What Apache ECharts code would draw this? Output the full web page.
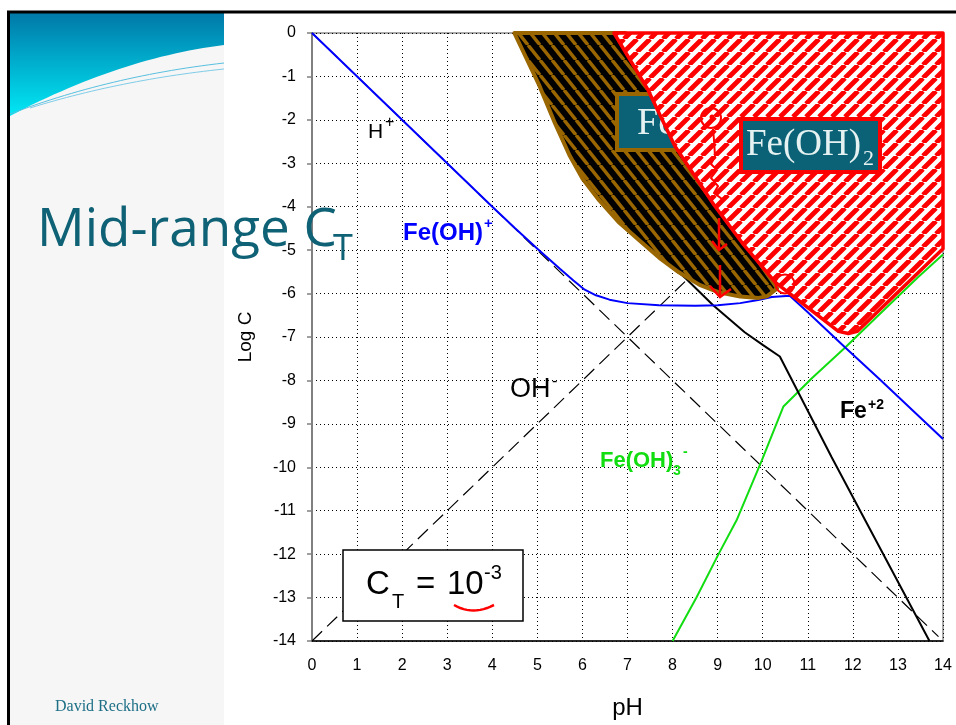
<!DOCTYPE html>
<html><head><meta charset="utf-8">
<script src="https://cdn.jsdelivr.net/npm/echarts@6.0.0/dist/echarts.min.js"></script>
<style>html,body{margin:0;padding:0;background:#fff}#c{width:956px;height:725px}</style>
</head><body><div id="c"></div>
<script>
// ---- data (pH, log C) ----
const pHRange = [0, 14];
const logCRange = [-14, 0];
const hPlus = [[0, 0], [13.9, -13.9]];
const ohMinus = [[0, -14], [14, 0]];
const feOHplus = [[0,0],[4,-4],[4.5,-4.49],[5,-4.97],[5.5,-5.43],[5.8,-5.7],[6.05,-5.91],[6.3,-6.04],[6.6,-6.14],[7,-6.22],[7.7,-6.27],[8.5,-6.28],[9,-6.27],[9.5,-6.22],[9.9,-6.15],[10.2,-6.08],[10.6,-6.05],[11,-6.43],[11.83,-7.24],[12.57,-7.95],[14,-9.35]];
const fe2 = [[7.4,-4.85],[8.3,-5.66],[8.9,-6.27],[9.6,-6.89],[10,-7.18],[10.38,-7.45],[11.53,-9.77],[13.7,-14]];
const feOH3minus = [[8,-14],[8.53,-13],[9.02,-12],[9.42,-11.22],[9.98,-9.84],[10.46,-8.6],[11.09,-7.95],[11.83,-7.24],[12.5,-6.57],[13.45,-5.62],[14,-5.1]];
const brownRegion = [[4.49,0],[5.04,-1.2],[5.4,-2.1],[5.71,-2.81],[6.0,-3.35],[6.37,-3.85],[6.8,-4.35],[7.26,-4.77],[7.7,-5.17],[8.14,-5.51],[8.6,-5.8],[9.03,-5.97],[9.5,-6.07],[9.91,-6.1],[10.1,-6.06],[10.32,-5.88],[9.7,-4.95],[9.0,-3.95],[8.25,-2.7],[7.6,-1.3],[6.95,0]];
const redRegion = [[6.7,0],[14,0],[14,-4.97],[12.1,-6.87],[11.9,-6.92],[11.68,-6.87],[10.28,-5.74],[9.58,-4.88],[8.92,-3.96],[8.05,-2.6],[7.45,-1.3]];

const FONT = '"Liberation Sans", Arial, sans-serif';
const SERIF = '"Liberation Serif", "Times New Roman", serif';

function stripes(w, h, bg, fg, lw, dir) {
  const c = document.createElement('canvas');
  c.width = w; c.height = h;
  const g = c.getContext('2d');
  g.fillStyle = bg; g.fillRect(0, 0, w, h);
  g.strokeStyle = fg; g.lineWidth = lw;
  g.beginPath();
  for (let k = -1; k <= 1; k++) {
    if (dir === '/') { g.moveTo(k * w, h); g.lineTo(k * w + w, 0); }
    else { g.moveTo(k * w, 0); g.lineTo(k * w + w, h); }
  }
  g.stroke();
  return { image: c, repeat: 'repeat' };
}
const redPattern = stripes(13, 13, '#ffffff', '#ff0000', 4.8, '/');
const brownPattern = stripes(12, 15, '#000000', '#996600', 3.5, '\\');

function T(text, x, y, font, fill, z, align) {
  return { type: 'text', x: x, y: y, z: z || 20, silent: true,
    style: { text: text, font: font, fill: fill, align: align || 'left', verticalAlign: 'middle',
             textAlign: align || 'left', textVerticalAlign: 'middle' } };
}
function bez(p0, c, p1, n) {
  const pts = [];
  for (let i = 0; i <= n; i++) {
    const t = i / n, a = (1 - t) * (1 - t), b = 2 * (1 - t) * t, d = t * t;
    pts.push([a * p0[0] + b * c[0] + d * p1[0], a * p0[1] + b * c[1] + d * p1[1]]);
  }
  return pts;
}

const chart = echarts.init(document.getElementById('c'));

const tealCurve = bez([224, 45], [120, 58], [10, 116], 30);
const graphics = [
  { type: 'rect', z: -10, shape: { x: 10, y: 13, width: 214, height: 712 }, style: { fill: '#f6f6f6' } },
  { type: 'polygon', z: -9, shape: { points: [[10, 13], [224, 13]].concat(tealCurve) },
    style: { fill: new echarts.graphic.LinearGradient(0, 0, 0, 1, [{ offset: 0, color: '#0078a8' }, { offset: 1, color: '#00e8f5' }]) } },
  { type: 'polyline', z: -8, shape: { points: bez([10, 114], [110, 76], [224, 63], 30) }, style: { stroke: '#58c0e0', lineWidth: 1, fill: null } },
  { type: 'polyline', z: -8, shape: { points: bez([30, 108], [120, 80], [224, 69], 30) }, style: { stroke: '#7fcde8', lineWidth: 1, fill: null } },
  // slide border
  { type: 'line', z: 30, shape: { x1: 7, y1: 12, x2: 956, y2: 12 }, style: { stroke: '#000', lineWidth: 3 } },
  { type: 'line', z: 30, shape: { x1: 8.5, y1: 11, x2: 8.5, y2: 725 }, style: { stroke: '#000', lineWidth: 3 } },
  // title
  T('Mid-range C', 37, 231, '53px "Open Sans", sans-serif', '#0f6275', 40),
  T('T', 333, 250, '36px "Open Sans", sans-serif', '#0f6275', 40),
  T('David Reckhow', 55, 707, '16px ' + SERIF, '#1d6f86', 40),
  // Fe box (behind red region)
  { type: 'rect', z: 4, shape: { x: 617, y: 94, width: 115, height: 56 }, style: { fill: '#0b6276', stroke: '#996600', lineWidth: 4 } },
  T('Fe(OH)', 637, 124, '38px ' + SERIF, '#e6f2f2', 4.5),
  // Fe(OH)2 box
  { type: 'rect', z: 6, shape: { x: 741, y: 119, width: 139, height: 53 }, style: { fill: '#0b6276', stroke: '#ff0000', lineWidth: 4 } },
  T('Fe(OH)', 746, 145, '37px ' + SERIF, '#e6f2f2', 6.5),
  T('2', 863, 159, '22px ' + SERIF, '#e6f2f2', 6.5),
  // species labels
  T('H', 368, 132, '21px ' + FONT, '#000', 20),
  T('+', 385, 123, '16px ' + FONT, '#000', 20),
  T('Fe(OH)', 403, 233, 'bold 24px ' + FONT, '#0000ff', 20),
  T('+', 484, 224, 'bold 15px ' + FONT, '#0000ff', 20),
  T('OH', 510, 390, '27px ' + FONT, '#000', 20),
  T('-', 552, 382, '16px ' + FONT, '#000', 20),
  T('Fe(OH)', 600, 461, 'bold 22px ' + FONT, '#11dd11', 20),
  T('3', 673, 471, 'bold 14px ' + FONT, '#11dd11', 20),
  T('-', 683, 452, 'bold 14px ' + FONT, '#11dd11', 20),
  T('Fe', 840, 412, 'bold 23px ' + FONT, '#000', 20),
  T('+2', 868, 405, 'bold 14px ' + FONT, '#000', 20),
  // C_T box
  { type: 'rect', z: 15, shape: { x: 343, y: 550, width: 180, height: 71 }, style: { fill: '#fff', stroke: '#000', lineWidth: 1.5 } },
  T('C', 366, 585, '33px ' + FONT, '#000', 16),
  T('T', 392, 602, '20px ' + FONT, '#000', 16),
  T('=', 416, 585, '33px ' + FONT, '#000', 16),
  T('10', 447, 585, '33px ' + FONT, '#000', 16),
  T('-3', 484, 573, '20px ' + FONT, '#000', 16),
  { type: 'polyline', z: 17, shape: { points: bez([454, 605], [473, 616], [494, 605], 12) }, style: { stroke: '#ff0000', lineWidth: 2.5, fill: null } },
  // hand annotations
  { type: 'circle', z: 8, shape: { cx: 711, cy: 118, r: 10 }, style: { stroke: '#ff0000', lineWidth: 2, fill: null } },
  { type: 'circle', z: 8, shape: { cx: 712, cy: 117, r: 2.5 }, style: { fill: '#ff0000' } },
  { type: 'polyline', z: 8, shape: { points: [[713,129],[714,140],[715,156],[711,164],[717,170],[711,178],[718,186],[714,193],[722,199]] }, style: { stroke: '#ff0000', lineWidth: 2, fill: null } },
  { type: 'polyline', z: 8, shape: { points: [[719,218],[719,249]] }, style: { stroke: '#ff0000', lineWidth: 2.5, fill: null } },
  { type: 'polyline', z: 8, shape: { points: [[712,241],[719,250],[727,244]] }, style: { stroke: '#ff0000', lineWidth: 2.5, fill: null } },
  { type: 'polyline', z: 8, shape: { points: [[720,265],[720,296]] }, style: { stroke: '#ff0000', lineWidth: 2.5, fill: null } },
  { type: 'polyline', z: 8, shape: { points: [[710,286],[720,297],[731,289]] }, style: { stroke: '#ff0000', lineWidth: 2.5, fill: null } },
  { type: 'circle', z: 8, shape: { cx: 785, cy: 284, r: 9.5 }, style: { stroke: '#ff0000', lineWidth: 2, fill: null } }
];

function region(data, fill, stroke, lw, z) {
  return { type: 'custom', z: z, silent: true, data: [[0, 0]],
    renderItem: function (params, api) {
      return { type: 'polygon', shape: { points: data.map(function (d) { return api.coord(d); }) },
        style: { fill: fill, stroke: stroke, lineWidth: lw, lineJoin: 'round' } };
    } };
}
function line(data, color, width, type, z) {
  return { type: 'line', data: data, z: z, symbol: 'none', silent: true,
    lineStyle: { color: color, width: width, type: type || 'solid' } };
}
const split = { show: true, lineStyle: { color: '#000', width: 1, type: [1, 3] } };

chart.setOption({
  animation: false,
  backgroundColor: '#ffffff',
  grid: { left: 312, top: 33, width: 631, height: 608, show: true, borderColor: '#8c8c8c', borderWidth: 1.5, backgroundColor: 'rgba(0,0,0,0)' },
  xAxis: { type: 'value', min: pHRange[0], max: pHRange[1], interval: 1,
    name: 'pH', nameLocation: 'middle', nameGap: 55, nameTextStyle: { fontSize: 24, color: '#000', fontFamily: FONT },
    axisLine: { onZero: false, lineStyle: { color: '#000', width: 1.5 } }, axisTick: { show: false },
    axisLabel: { fontSize: 16, color: '#000', fontFamily: FONT, margin: 17 }, splitLine: split },
  yAxis: { type: 'value', min: logCRange[0], max: logCRange[1], interval: 1,
    name: 'Log C', nameLocation: 'middle', nameGap: 57, nameTextStyle: { fontSize: 19, color: '#000', fontFamily: FONT },
    axisLine: { onZero: false, lineStyle: { color: '#808080', width: 2 } },
    axisTick: { show: true, length: 5, lineStyle: { color: '#808080', width: 1.5 } },
    axisLabel: { fontSize: 16, color: '#000', fontFamily: FONT, margin: 16 }, splitLine: split },
  series: [
    line(hPlus, '#000', 1.2, [14, 7], 2),
    line(ohMinus, '#000', 1.2, [14, 7], 2),
    line(feOH3minus, '#11dd11', 2, 'solid', 2),
    line(fe2, '#000', 2, 'solid', 2),
    line(feOHplus, '#0000ff', 2, 'solid', 2),
    region(brownRegion, brownPattern, '#996600', 4, 3),
    region(redRegion, redPattern, '#ff0000', 3.5, 5)
  ],
  graphic: graphics
});
</script></body></html>
